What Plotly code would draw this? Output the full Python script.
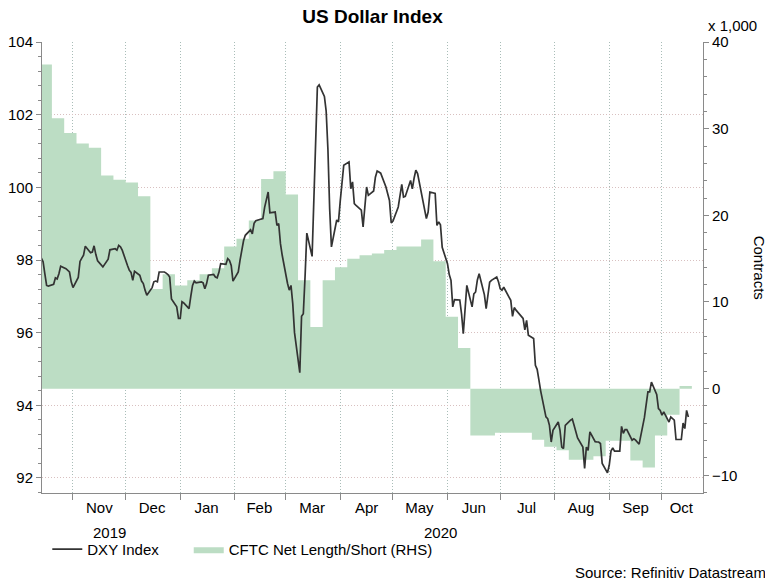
import pandas as pd
import plotly.graph_objects as go

# DXY daily closes, one row per week (Mon..Fri), first row = week of 14 Oct 2019
dxy_weeks = [
    [98.05, 97.95, 97.62, 97.30, 97.28],
    [97.33, 97.51, 97.48, 97.62, 97.83],
    [97.76, 97.70, 97.67, 97.40, 97.24],
    [97.52, 97.96, 98.05, 98.13, 98.38],  # Nov
    [98.20, 98.22, 98.39, 98.15, 97.98],
    [97.81, 97.88, 97.95, 98.02, 98.28],
    [98.31, 98.27, 98.40, 98.36, 98.27],
    [97.85, 97.72, 97.66, 97.44, 97.69],  # Dec
    [97.58, 97.42, 97.35, 97.17, 97.03],
    [97.24, 97.40, 97.42, 97.40, 97.67],
    [97.67, 97.64, 97.60, 97.53, 96.93],
    [96.71, 96.39, 96.39, 96.85, 96.82],
    [96.66, 97.00, 97.30, 97.42, 97.37],  # Jan 2020
    [97.40, 97.37, 97.21, 97.35, 97.58],
    [97.60, 97.53, 97.51, 97.66, 97.90],
    [97.88, 98.04, 97.99, 97.85, 97.42],
    [97.67, 97.99, 98.31, 98.53, 98.68],  # Feb
    [98.83, 98.72, 99.01, 99.08, 99.10],
    [99.14, 99.45, 99.70, 99.87, 99.30],
    [99.32, 98.95, 99.00, 98.45, 98.13],
    [97.36, 97.17, 97.30, 96.80, 96.00],  # Mar
    [94.90, 96.45, 96.52, 97.55, 98.74],
    [98.10, 99.70, 101.20, 102.76, 102.82],
    [102.50, 102.10, 101.05, 99.40, 98.36],
    [99.10, 99.05, 99.62, 100.21, 100.61],
    [100.70, 99.96, 100.15, 99.55, 99.50],  # Apr
    [99.37, 98.91, 99.59, 100.01, 99.78],
    [99.90, 100.28, 100.45, 100.42, 100.39],
    [100.01, 99.85, 99.64, 99.02, 99.07],
    [99.46, 99.75, 100.08, 99.73, 99.75],  # May
    [100.19, 99.96, 100.25, 100.47, 100.38],
    [99.64, 99.45, 99.14, 99.32, 99.87],
    [99.83, 98.95, 99.05, 98.97, 98.35],
    [97.90, 97.60, 97.44, 96.71, 96.91],  # Jun
    [96.90, 96.52, 95.97, 96.52, 97.30],
    [96.71, 97.07, 97.12, 97.45, 97.62],
    [97.04, 96.66, 97.02, 97.39, 97.44],
    [97.53, 97.40, 97.21, 97.17, 97.25],
    [96.98, 96.89, 96.45, 96.69, 96.62],  # Jul
    [96.45, 96.39, 96.08, 96.34, 95.93],
    [95.84, 95.10, 94.99, 94.70, 94.40],
    [93.68, 93.63, 93.45, 92.99, 93.31],
    [93.54, 93.31, 92.85, 92.81, 93.45],  # Aug
    [93.59, 93.62, 93.45, 93.30, 93.10],
    [92.85, 92.26, 92.85, 92.76, 93.27],
    [93.00, 92.99, 92.99, 92.95, 92.40],
    [92.14, 92.35, 92.74, 92.83, 92.74],  # Sep
    [92.74, 93.42, 93.23, 93.33, 93.33],
    [93.04, 93.08, 93.04, 92.99, 92.93],
    [93.66, 94.09, 94.37, 94.37, 94.64],
    [94.30, 93.91, 93.86, 93.73, 93.82],
    [93.54, 93.68, 93.63, 93.59, 93.06],  # Oct
    [93.06, 93.51, 93.36, 93.86, 93.68],
]

# CFTC net long/short, thousands of contracts, weekly from 13 Oct 2019
cftc_net = [
    37.4, 31.2, 29.5, 28.3, 27.8, 24.6, 24.1, 23.8, 22.2, 11.5, 13.2, 11.9,
    12.5, 13.2, 13.9, 16.4, 17.3, 19.4, 24.2, 25.1, 22.4, 12.5, 7.1, 12.5, 14.0,
    15.0, 15.4, 15.6, 16.0, 16.4, 16.4, 17.2, 14.7, 8.3,
    4.7, -5.4, -5.4, -5.1, -5.1, -5.1, -5.9, -6.7,
    -7.1, -8.2, -8.2, -7.8, -6.0,
    -6.0, -8.3, -9.1, -5.4,
    -3.0, 0.3,
]

month_ticks = ["2019-11-16", "2019-12-16", "2020-01-16", "2020-02-15", "2020-03-16",
               "2020-04-16", "2020-05-16", "2020-06-16", "2020-07-16", "2020-08-16",
               "2020-09-16", "2020-10-12"]
month_labels = ["Nov", "Dec", "Jan", "Feb", "Mar", "Apr", "May", "Jun", "Jul", "Aug", "Sep", "Oct"]

week_starts = pd.date_range("2019-10-14", periods=len(dxy_weeks), freq="7D")
dxy_dates = [w + pd.Timedelta(days=d) for w in week_starts for d in range(5)]
dxy_vals = [v for wk in dxy_weeks for v in wk]

cftc_dates = list(pd.date_range("2019-10-13", periods=len(cftc_net), freq="7D"))
cftc_dates.append(cftc_dates[-1] + pd.Timedelta(days=7))  # close the last step
cftc_vals = cftc_net + [cftc_net[-1]]

FONT = "Liberation Sans, Arial, sans-serif"
AXIS = "#8a8a8a"
FILL = "#bcddc4"

fig = go.Figure()
fig.add_trace(go.Scatter(
    x=cftc_dates, y=cftc_vals, yaxis="y", name="CFTC Net Length/Short (RHS)",
    mode="lines", line=dict(shape="hv", width=0, color=FILL),
    fill="tozeroy", fillcolor=FILL, legendrank=2))
fig.add_trace(go.Scatter(
    x=dxy_dates, y=dxy_vals, yaxis="y2", name="DXY Index" + "\u00a0" * 6,
    mode="lines", line=dict(color="#333333", width=1.7), legendrank=1))

# page body has an 8px margin, so the figure is 8px smaller and margins trimmed
fig.update_layout(
    width=765, height=574,
    margin=dict(l=34, r=70, t=34, b=89),
    paper_bgcolor="white", plot_bgcolor="white",
    font=dict(family=FONT, size=15, color="black"),
    title=dict(text="<b>US Dollar Index</b>", x=0.5, xref="paper", y=1 - 8 / 574,
               yref="container", yanchor="middle", font=dict(size=19)),
    xaxis=dict(
        range=["2019-10-14 09:00", "2020-10-24 08:00"], automargin=False,
        tickmode="array", tickvals=month_ticks, ticktext=month_labels,
        ticks="", ticklabelstandoff=1, showgrid=False, zeroline=False,
        showline=True, linecolor=AXIS,
        minor=dict(tick0="2019-11-01", dtick="M1", ticks="outside", ticklen=6,
                   tickcolor=AXIS, showgrid=True, gridcolor="#a9bdb8", griddash="1px,2px"),
    ),
    yaxis=dict(
        side="right", range=[-12.04, 40], tickvals=[-10, 0, 10, 20, 30, 40],
        automargin=False,
        ticks="outside", ticklen=5, tickcolor=AXIS, showgrid=False, zeroline=False,
        showline=True, linecolor=AXIS,
        minor=dict(dtick=2, ticks="outside", ticklen=3, tickcolor=AXIS, showgrid=False),
    ),
    yaxis2=dict(
        overlaying="y", side="left", range=[91.587, 104], tick0=92, dtick=2,
        automargin=False,
        ticks="outside", ticklen=5, tickcolor=AXIS, zeroline=False,
        showline=True, linecolor=AXIS,
        showgrid=True, gridcolor="#d8c0c0", griddash="1px,2px",
        minor=dict(dtick=0.4, ticks="outside", ticklen=3, tickcolor=AXIS, showgrid=False),
    ),
    legend=dict(orientation="h", x=0.008, xanchor="left", y=-0.125, yanchor="middle",
                bgcolor="rgba(0,0,0,0)", font=dict(size=15)),
    showlegend=True,
)

fig.add_annotation(x="2019-11-22", y=-0.087, xref="x", yref="paper", text="2019",
                   showarrow=False, xanchor="center", yanchor="middle")
fig.add_annotation(x="2020-05-28", y=-0.087, xref="x", yref="paper", text="2020",
                   showarrow=False, xanchor="center", yanchor="middle")
fig.add_annotation(x=1.098, y=-0.176, xref="paper", yref="paper", xanchor="right",
                   yanchor="middle", text="Source: Refinitiv Datastream", showarrow=False)
fig.add_annotation(x=1.045, y=1.037, xref="paper", yref="paper", text="x 1,000",
                   showarrow=False, xanchor="center", yanchor="middle")
fig.add_annotation(x=1.086, y=0.5, xref="paper", yref="paper", text="Contracts",
                   textangle=90, showarrow=False, xanchor="center", yanchor="middle")

fig.write_html("out.html")
